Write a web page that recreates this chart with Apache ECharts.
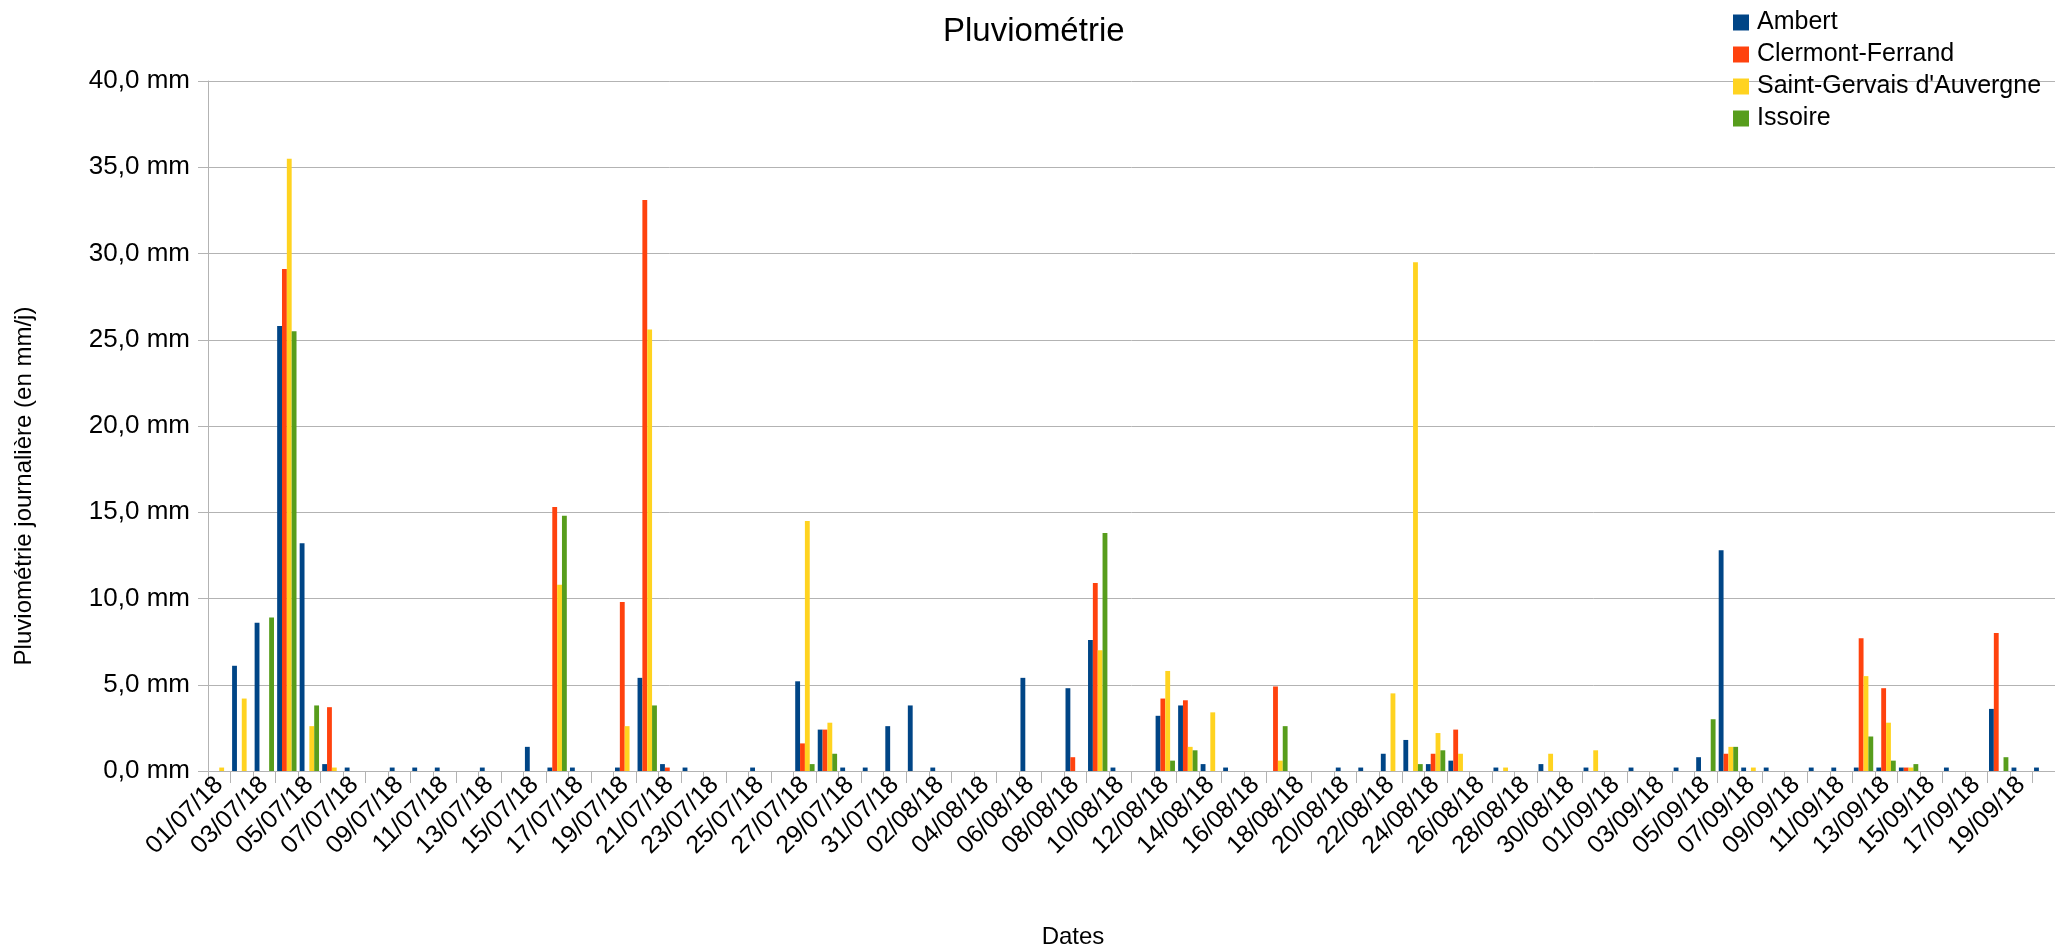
<!DOCTYPE html>
<html>
<head>
<meta charset="utf-8">
<script src="https://cdn.jsdelivr.net/npm/echarts@6/dist/echarts.min.js"></script>
<style>
html,body{margin:0;padding:0;background:#fff;}
#chart{width:2055px;height:949px;}
</style>
</head>
<body>
<div id="chart"></div>
<script>
const dates = [
 '01/07/18','02/07/18','03/07/18','04/07/18','05/07/18','06/07/18','07/07/18','08/07/18','09/07/18','10/07/18',
 '11/07/18','12/07/18','13/07/18','14/07/18','15/07/18','16/07/18','17/07/18','18/07/18','19/07/18','20/07/18',
 '21/07/18','22/07/18','23/07/18','24/07/18','25/07/18','26/07/18','27/07/18','28/07/18','29/07/18','30/07/18',
 '31/07/18','01/08/18','02/08/18','03/08/18','04/08/18','05/08/18','06/08/18','07/08/18','08/08/18','09/08/18',
 '10/08/18','11/08/18','12/08/18','13/08/18','14/08/18','15/08/18','16/08/18','17/08/18','18/08/18','19/08/18',
 '20/08/18','21/08/18','22/08/18','23/08/18','24/08/18','25/08/18','26/08/18','27/08/18','28/08/18','29/08/18',
 '30/08/18','31/08/18','01/09/18','02/09/18','03/09/18','04/09/18','05/09/18','06/09/18','07/09/18','08/09/18',
 '09/09/18','10/09/18','11/09/18','12/09/18','13/09/18','14/09/18','15/09/18','16/09/18','17/09/18','18/09/18',
 '19/09/18','20/09/18'
];

const ambert = [
 0,6.1,8.6,25.8,13.2,0.4,0.2,0,0.2,0.2,
 0.2,0,0.2,0,1.4,0.2,0.2,0,0.2,5.4,
 0.4,0.2,0,0,0.2,0,5.2,2.4,0.2,0.2,
 2.6,3.8,0.2,0,0,0,5.4,0,4.8,7.6,
 0.2,0,3.2,3.8,0.4,0.2,0,0,0,0,
 0.2,0.2,1.0,1.8,0.4,0.6,0,0.2,0,0.4,
 0,0.2,0,0.2,0,0.2,0.8,12.8,0.2,0.2,
 0,0.2,0.2,0.2,0.2,0.2,0,0.2,0,3.6,
 0.2,0.2
];
const clermont = [
 0,0,0,29.1,0,3.7,0,0,0,0,
 0,0,0,0,0,15.3,0,0,9.8,33.1,
 0.2,0,0,0,0,0,1.6,2.4,0,0,
 0,0,0,0,0,0,0,0,0.8,10.9,
 0,0,4.2,4.1,0,0,0,4.9,0,0,
 0,0,0,0,1.0,2.4,0,0,0,0,
 0,0,0,0,0,0,0,1.0,0,0,
 0,0,0,7.7,4.8,0.2,0,0,0,8.0,
 0,0
];
const saintGervais = [
 0.2,4.2,0,35.5,2.6,0.2,0,0,0,0,
 0,0,0,0,0,10.8,0,0,2.6,25.6,
 0,0,0,0,0,0,14.5,2.8,0,0,
 0,0,0,0,0,0,0,0,0,7.0,
 0,0,5.8,1.4,3.4,0,0,0.6,0,0,
 0,0,4.5,29.5,2.2,1.0,0,0.2,0,1.0,
 0,1.2,0,0,0,0,0,1.4,0.2,0,
 0,0,0,5.5,2.8,0.2,0,0,0,0,
 0,0
];
const issoire = [
 0,0,8.9,25.5,3.8,0,0,0,0,0,
 0,0,0,0,0,14.8,0,0,0,3.8,
 0,0,0,0,0,0,0.4,1.0,0,0,
 0,0,0,0,0,0,0,0,0,13.8,
 0,0,0.6,1.2,0,0,0,2.6,0,0,
 0,0,0,0.4,1.2,0,0,0,0,0,
 0,0,0,0,0,0,3.0,1.4,0,0,
 0,0,0,2.0,0.6,0.4,0,0,0,0.8,
 0,0
];
const yTickLabels = ['0,0 mm','5,0 mm','10,0 mm','15,0 mm','20,0 mm','25,0 mm','30,0 mm','35,0 mm','40,0 mm'];
const seriesNames = ['Ambert','Clermont-Ferrand',"Saint-Gervais d'Auvergne",'Issoire'];
const seriesColors = ['#004586','#ff420e','#ffd320','#579d1c'];

const FONT = "'Liberation Sans', Arial, sans-serif";
const chart = echarts.init(document.getElementById('chart'), null, {renderer:'canvas'});
const seriesData = [ambert, clermont, saintGervais, issoire];

chart.setOption({
  animation:false,
  backgroundColor:'#ffffff',
  textStyle:{fontFamily:FONT},
  color: seriesColors,
  title:{
    text:'Pluviométrie', left:938, top:10,
    textStyle:{fontFamily:FONT, fontSize:33, fontWeight:'normal', color:'#000'}
  },
  legend:{
    orient:'vertical', left:1728, top:5,
    itemWidth:16, itemHeight:16, itemGap:7,
    icon:'rect',
    textStyle:{fontFamily:FONT, fontSize:25, color:'#000', lineHeight:25, padding:[0,0,0,3]},
    data: seriesNames
  },
  grid:{left:208, right:0, top:81, bottom:178, containLabel:false},
  xAxis:{
    type:'category',
    data: dates,
    boundaryGap:true,
    axisLine:{show:true, lineStyle:{color:'#b3b3b3', width:1}},
    axisTick:{show:true, interval:0, length:12, lineStyle:{color:'#b3b3b3'}},
    axisLabel:{interval:1, rotate:45, fontFamily:FONT, fontSize:25, color:'#000', margin:10},
    splitLine:{show:false}
  },
  yAxis:{
    type:'value', min:0, max:40, interval:5,
    axisLine:{show:true, lineStyle:{color:'#b3b3b3', width:1}},
    axisTick:{show:true, length:10, lineStyle:{color:'#b3b3b3'}},
    axisLabel:{fontFamily:FONT, fontSize:26, color:'#000', margin:18,
      formatter: v => yTickLabels[Math.round(v/5)]},
    splitLine:{show:true, lineStyle:{color:'#b3b3b3', width:1}}
  },
  graphic:[
    {type:'text', x:24, y:486, rotation:Math.PI/2,
     style:{text:'Pluviométrie journalière (en mm/j)', font:"24px 'Liberation Sans', Arial, sans-serif", fill:'#000', align:'center', verticalAlign:'middle'}},
    {type:'text', x:1073, y:937,
     style:{text:'Dates', font:"24px 'Liberation Sans', Arial, sans-serif", fill:'#000', align:'center', verticalAlign:'middle'}}
  ],
  series: seriesNames.map((n,i)=>({
    name:n, type:'bar', data:seriesData[i],
    barGap:'0%', barCategoryGap:'14%',
    itemStyle:{color:seriesColors[i]}
  }))
});
</script>
</body>
</html>
